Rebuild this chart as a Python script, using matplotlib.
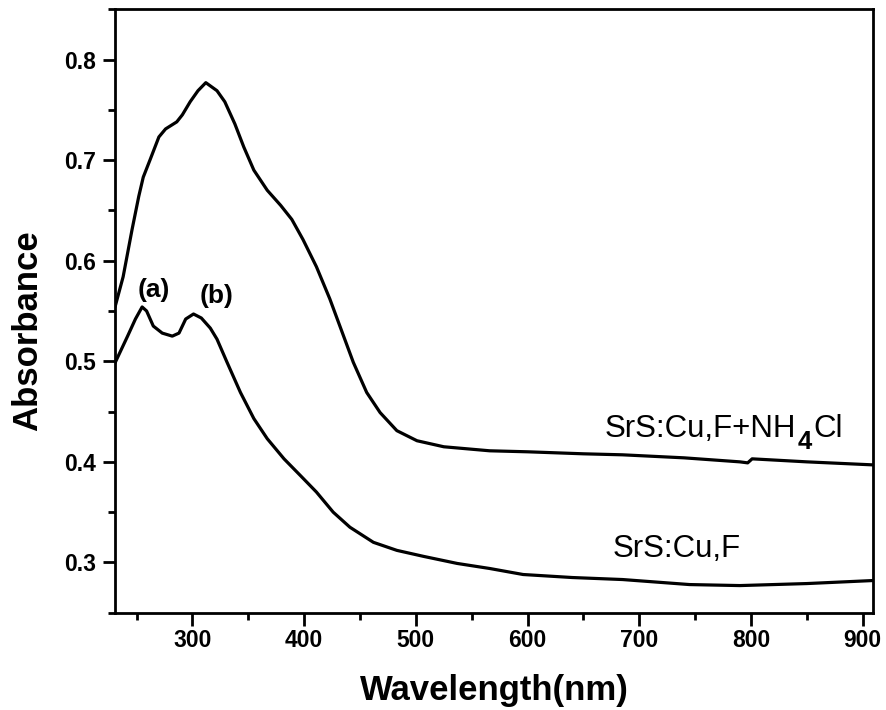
import matplotlib

matplotlib.use("Agg")
import matplotlib.pyplot as plt
from matplotlib.ticker import MultipleLocator

# SrS:Cu,F + NH4Cl (upper curve)
wl_nh4 = [231, 238, 246, 252, 256, 262, 270, 276, 286, 291, 298, 305, 312, 322,
          329, 338, 346, 355, 367, 379, 389, 399, 411, 423, 432, 444, 456, 468,
          483, 501, 525, 566, 600, 650, 685, 740, 790, 797, 801, 850, 909]
abs_nh4 = [0.555, 0.584, 0.631, 0.664, 0.683, 0.700, 0.723, 0.731, 0.738, 0.745,
           0.758, 0.769, 0.777, 0.769, 0.758, 0.736, 0.713, 0.690, 0.670, 0.655,
           0.641, 0.621, 0.594, 0.562, 0.535, 0.499, 0.469, 0.449, 0.431, 0.421,
           0.415, 0.411, 0.410, 0.408, 0.407, 0.404, 0.400, 0.399, 0.403, 0.400,
           0.397]

# SrS:Cu,F (lower curve)
wl_cuf = [231, 242, 249, 255, 259, 265, 273, 282, 288, 294, 301, 308, 316, 322,
          331, 343, 355, 367, 382, 397, 411, 426, 441, 462, 483, 507, 537, 566,
          596, 640, 685, 745, 790, 850, 909]
abs_cuf = [0.499, 0.525, 0.542, 0.554, 0.550, 0.535, 0.528, 0.525, 0.528, 0.542,
           0.547, 0.543, 0.533, 0.522, 0.499, 0.469, 0.443, 0.423, 0.403, 0.386,
           0.370, 0.350, 0.335, 0.320, 0.312, 0.306, 0.299, 0.294, 0.288, 0.285,
           0.283, 0.278, 0.277, 0.279, 0.282]

plt.rcParams["font.family"] = ["Liberation Sans", "DejaVu Sans"]

fig, ax = plt.subplots(figsize=(8.87, 7.10), dpi=100)
fig.subplots_adjust(left=0.13, right=0.984, bottom=0.137, top=0.987)

ax.plot(wl_nh4, abs_nh4, color="black", lw=2.3, solid_joinstyle="round")
ax.plot(wl_cuf, abs_cuf, color="black", lw=2.3, solid_joinstyle="round")

ax.set_xlim(231, 909)
ax.set_ylim(0.25, 0.85)
ax.xaxis.set_major_locator(MultipleLocator(100))
ax.xaxis.set_minor_locator(MultipleLocator(50))
ax.yaxis.set_major_locator(MultipleLocator(0.1))
ax.yaxis.set_minor_locator(MultipleLocator(0.05))
ax.tick_params(which="major", direction="out", length=9, width=2,
               labelsize=16.5, pad=3)
ax.tick_params(axis="y", which="major", pad=5)
ax.tick_params(which="minor", direction="out", length=5, width=2)
for lab in ax.get_xticklabels() + ax.get_yticklabels():
    lab.set_fontweight("bold")
for sp in ax.spines.values():
    sp.set_linewidth(2)

ax.set_xlabel("Wavelength(nm)", fontsize=25, fontweight="bold")
ax.set_ylabel("Absorbance", fontsize=25, fontweight="bold")
ax.xaxis.set_label_coords(0.5, -0.102)
ax.yaxis.set_label_coords(-0.094, 0.467)

ax.text(265.4, 0.571, "(a)", fontsize=19, fontweight="bold", ha="center", va="center")
ax.text(321.3, 0.565, "(b)", fontsize=19, fontweight="bold", ha="center", va="center")

# SrS:Cu,F+NH4Cl with a large, bold, lowered 4
t1 = ax.text(669, 0.4247, "SrS:Cu,F+NH", fontsize=22.5, ha="left", va="baseline")
t4 = ax.annotate("4", xy=(1, 0), xycoords=t1, xytext=(1, -7.5),
                 textcoords="offset points", fontsize=18.5, fontweight="bold",
                 ha="left", va="bottom")
ax.annotate("Cl", xy=(1, 0), xycoords=(t4, t1), xytext=(1, 0),
            textcoords="offset points", fontsize=22.5, ha="left", va="bottom")

ax.text(676, 0.3055, "SrS:Cu,F", fontsize=22.5, ha="left", va="baseline")

fig.savefig("out.png", dpi=100)
